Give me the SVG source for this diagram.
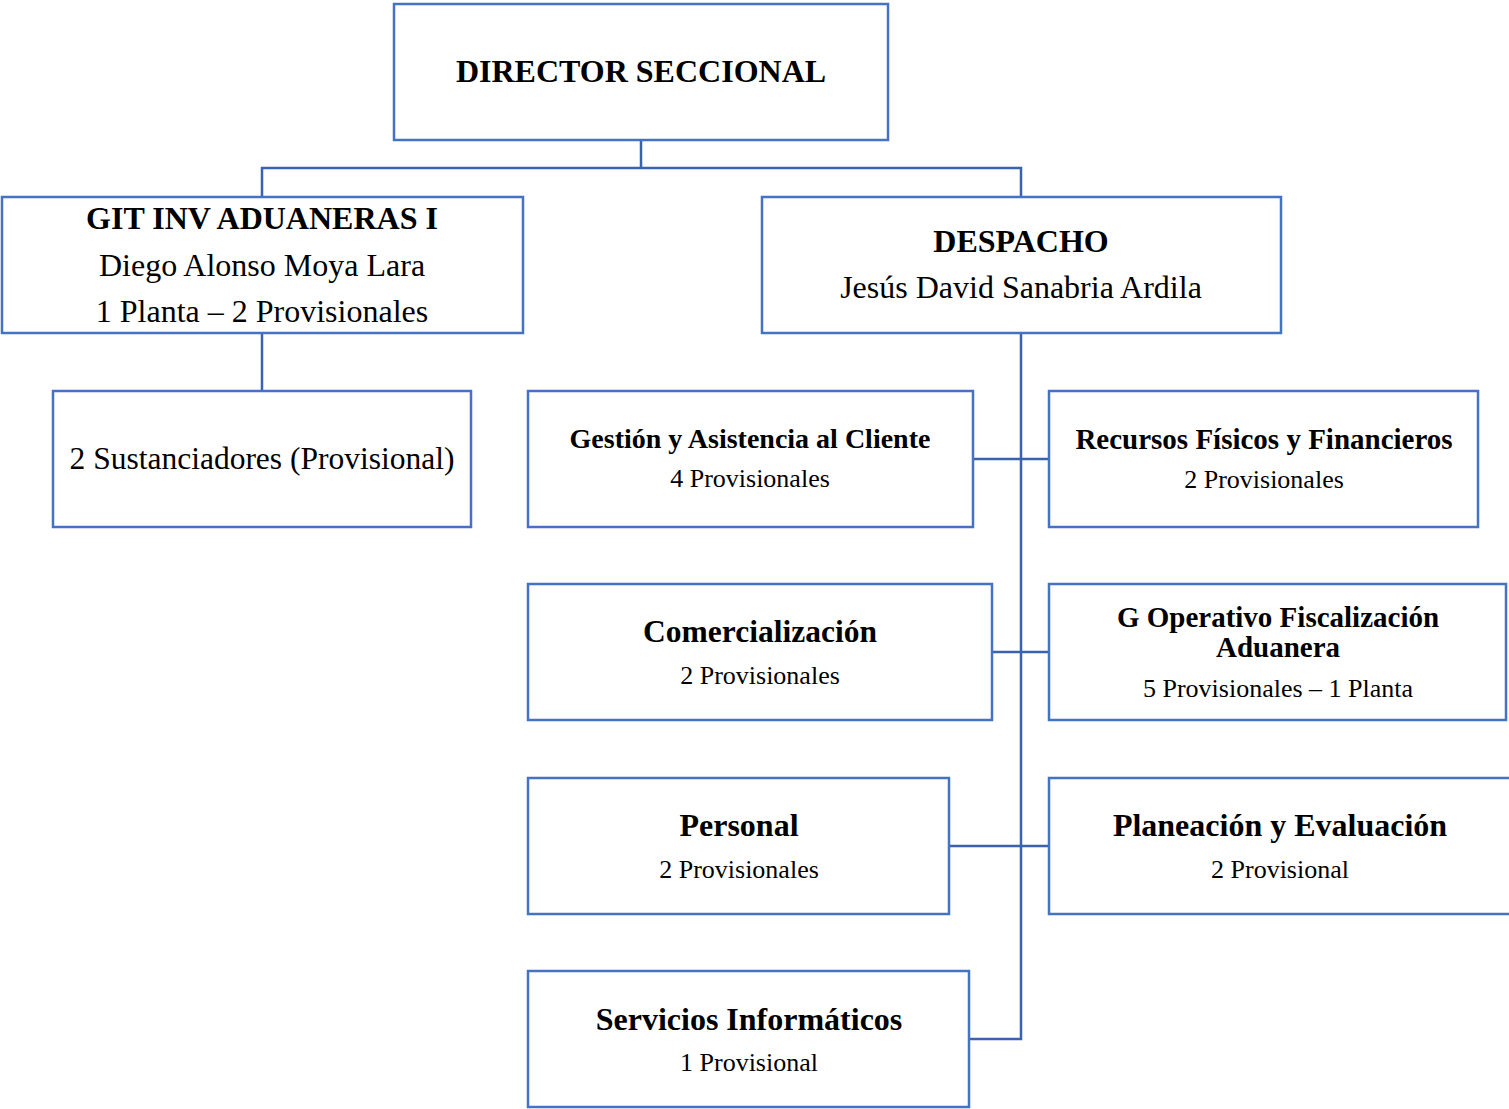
<svg xmlns="http://www.w3.org/2000/svg" width="1509" height="1109" viewBox="0 0 1509 1109">
<style>
.box{fill:#fff;stroke:#4472C4;stroke-width:2.5}
.ln{fill:none;stroke:#3A62AE;stroke-width:2.5}
text{font-family:"Liberation Serif","Times New Roman",serif;fill:#000;text-anchor:middle}
.b{font-weight:bold}
.t32{font-size:32px}
.t31{font-size:31.5px}
.t29{font-size:29px}
.t28{font-size:28px}
.t26{font-size:26px}
</style>
<rect width="1509" height="1109" fill="#fff"/>
<g id="connectors">
<path class="ln" d="M641,140 V168 M262,197 V168 H1021 V197"/>
<path class="ln" d="M262,333 V391"/>
<path class="ln" d="M1021,333 V1039 H969"/>
<path class="ln" d="M973,459 H1049"/>
<path class="ln" d="M992,652 H1049"/>
<path class="ln" d="M949,846 H1049"/>
</g>
<g id="director">
<rect class="box" x="394" y="4" width="494" height="136"/>
<text class="b t32" x="641" y="82">DIRECTOR SECCIONAL</text>
</g>
<g id="git">
<rect class="box" x="2" y="197" width="521" height="136"/>
<text class="b t32" x="262" y="229">GIT INV ADUANERAS I</text>
<text class="t32" x="262" y="276">Diego Alonso Moya Lara</text>
<text class="t32" x="262" y="322">1 Planta – 2 Provisionales</text>
</g>
<g id="despacho">
<rect class="box" x="762" y="197" width="519" height="136"/>
<text class="b t32" x="1021" y="252">DESPACHO</text>
<text class="t32" x="1021" y="298">Jesús David Sanabria Ardila</text>
</g>
<g id="sustanciadores">
<rect class="box" x="53" y="391" width="418" height="136"/>
<text class="t31" x="262" y="469">2 Sustanciadores (Provisional)</text>
</g>
<g id="gestion">
<rect class="box" x="528" y="391" width="445" height="136"/>
<text class="b t28" x="750" y="448">Gestión y Asistencia al Cliente</text>
<text class="t26" x="750" y="487">4 Provisionales</text>
</g>
<g id="recursos">
<rect class="box" x="1049" y="391" width="429" height="136"/>
<text class="b t29" x="1264" y="449">Recursos Físicos y Financieros</text>
<text class="t26" x="1264" y="488">2 Provisionales</text>
</g>
<g id="comercializacion">
<rect class="box" x="528" y="584" width="464" height="136"/>
<text class="b t31" x="760" y="642">Comercialización</text>
<text class="t26" x="760" y="684">2 Provisionales</text>
</g>
<g id="goperativo">
<rect class="box" x="1049" y="584" width="457" height="136"/>
<text class="b t29" x="1278" y="627">G Operativo Fiscalización</text>
<text class="b t29" x="1278" y="657">Aduanera</text>
<text class="t26" x="1278" y="697">5 Provisionales – 1 Planta</text>
</g>
<g id="personal">
<rect class="box" x="528" y="778" width="421" height="136"/>
<text class="b t32" x="739" y="836">Personal</text>
<text class="t26" x="739" y="878">2 Provisionales</text>
</g>
<g id="planeacion">
<rect class="box" x="1049" y="778" width="470" height="136"/>
<text class="b t32" x="1280" y="836">Planeación y Evaluación</text>
<text class="t26" x="1280" y="878">2 Provisional</text>
</g>
<g id="servicios">
<rect class="box" x="528" y="971" width="441" height="136"/>
<text class="b t32" x="749" y="1030">Servicios Informáticos</text>
<text class="t26" x="749" y="1071">1 Provisional</text>
</g>
</svg>
